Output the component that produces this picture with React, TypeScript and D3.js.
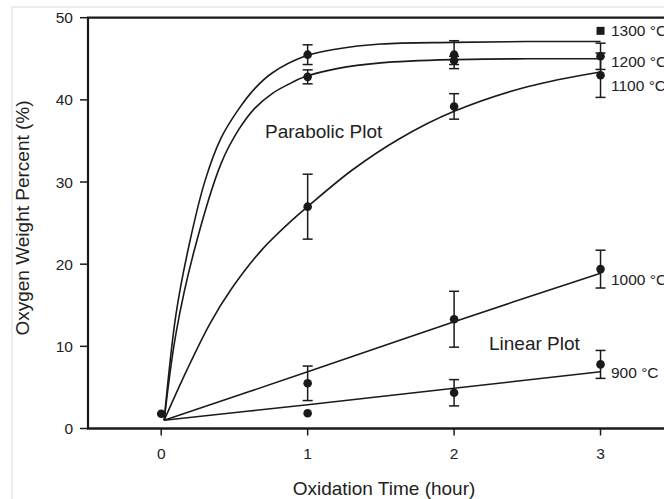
import React from "react";
import * as d3 from "d3";

// ---- data ----
const xTicks = [0, 1, 2, 3];
const yTicks = [0, 10, 20, 30, 40, 50];
const pointTimes = [1, 2, 3];

const startPoint = { t: 0, v: 1.8 };

const series900 = [1.85, 4.35, 7.8];
const err900 = [0, 1.6, 1.7];
const series1000 = [5.5, 13.3, 19.4];
const err1000 = [2.1, 3.4, 2.3];
const series1100 = [27.0, 39.2, 43.0];
const err1100 = [3.95, 1.55, 2.7];
const series1200 = [42.8, 44.8, 45.3];
const err1200 = [0.85, 0.5, 1.6];
const series1300 = [45.5, 45.5, 48.4];
const err1300 = [1.2, 1.7, 0];

// fitted curves
const fit1300T = [0.02, 0.1, 0.19, 0.3, 0.41, 0.53, 0.64, 0.76, 0.98, 1.2, 1.5, 2, 2.5, 3];
const fit1300V = [1.0, 13.8, 22.3, 30.2, 35.4, 38.9, 41.4, 43.3, 45.3, 46.2, 46.8, 47.0, 47.1, 47.1];
const fit1200T = [0.02, 0.1, 0.22, 0.41, 0.53, 0.64, 0.76, 0.87, 0.98, 1.2, 1.5, 2, 2.5, 3];
const fit1200V = [1.0, 11.5, 21.3, 32.3, 36.4, 39.0, 40.8, 41.9, 42.8, 43.8, 44.5, 44.9, 45.0, 45.0];
const fit1100T = [0.02, 0.175, 0.334, 0.48, 0.69, 0.915, 1.0, 1.3, 1.63, 2, 2.5, 3];
const fit1100V = [1.0, 7.1, 12.8, 17.0, 21.8, 25.7, 27.0, 31.4, 35.3, 38.6, 41.6, 43.4];
const fit1000T = [0.02, 1, 2, 3];
const fit1000V = [1.0, 6.9, 13.0, 18.9];
const fit900T = [0.02, 1, 2, 3];
const fit900V = [1.0, 2.9, 4.9, 6.9];

const seriesLabels = ["1300 °C", "1200 °C", "1100 °C", "1000 °C", "900 °C"];
const labelValues = [48.4, 44.7, 41.8, 18.2, 6.8];

const xTitle = "Oxidation Time (hour)";
const yTitle = "Oxygen Weight Percent (%)";

export default function App() {
  const W = 664, H = 499;
  const x = d3.scaleLinear().domain([-0.5, 3.5]).range([88, 673.75]);
  const y = d3.scaleLinear().domain([0, 50]).range([428.5, 17.7]);
  const font = "'Liberation Sans', Arial, sans-serif";
  const ink = "#1a1a1a";

  const line = d3
    .line<[number, number]>()
    .x((d) => x(d[0]))
    .y((d) => y(d[1]))
    .curve(d3.curveCatmullRom.alpha(0.5));

  const fits = [
    [fit1300T, fit1300V],
    [fit1200T, fit1200V],
    [fit1100T, fit1100V],
    [fit1000T, fit1000V],
    [fit900T, fit900V],
  ];

  const pointSets = [
    { v: series900, e: err900, square: false },
    { v: series1000, e: err1000, square: false },
    { v: series1100, e: err1100, square: false },
    { v: series1200, e: err1200, square: false },
    { v: series1300, e: err1300, square: true },
  ];

  return (
    <div style={{ position: "fixed", left: 0, top: 0 }}>
      <svg width={W} height={H} style={{ display: "block", background: "#fff" }}>
        {/* outer faint frame */}
        <rect x={12} y={7} width={W} height={H} fill="none" stroke="#dcdcdc" strokeWidth={1} />

        {/* curves */}
        {fits.map(([ts, vs], i) => (
          <path
            key={"f" + i}
            d={line(ts.map((t, j) => [t, vs[j]] as [number, number])) || ""}
            fill="none"
            stroke={ink}
            strokeWidth={1.6}
          />
        ))}

        {/* error bars and markers */}
        {pointSets.map((s, si) =>
          s.v.map((v, j) => {
            const t = pointTimes[j];
            const cx = x(t);
            const e = s.e[j];
            const isSq = s.square && j === 2;
            return (
              <g key={`p${si}-${j}`}>
                {e > 0 && (
                  <g stroke={ink} strokeWidth={1.5}>
                    <line x1={cx} x2={cx} y1={y(v + e)} y2={y(v - e)} />
                    <line x1={cx - 5} x2={cx + 5} y1={y(v + e)} y2={y(v + e)} />
                    <line x1={cx - 5} x2={cx + 5} y1={y(v - e)} y2={y(v - e)} />
                  </g>
                )}
                {isSq ? (
                  <rect x={cx - 4} y={y(v) - 4} width={8} height={8} fill={ink} />
                ) : (
                  <circle cx={cx} cy={y(v)} r={4.3} fill={ink} />
                )}
              </g>
            );
          })
        )}
        <circle cx={x(startPoint.t)} cy={y(startPoint.v)} r={4.3} fill={ink} />

        {/* axes */}
        <g stroke={ink}>
          <line x1={88} x2={88} y1={y(50)} y2={y(0)} strokeWidth={2.2} />
          <line x1={87} x2={W} y1={y(0)} y2={y(0)} strokeWidth={2.6} />
          <line x1={87} x2={W} y1={y(50)} y2={y(50)} strokeWidth={2.2} />
          {yTicks.map((t) => (
            <line key={"yt" + t} x1={80} x2={88} y1={y(t)} y2={y(t)} strokeWidth={1.5} />
          ))}
          {xTicks.map((t) => (
            <line key={"xt" + t} x1={x(t)} x2={x(t)} y1={y(0)} y2={y(0) + 7} strokeWidth={1.5} />
          ))}
        </g>

        <g fontFamily={font} fill="#222" fontSize={15.5}>
          {yTicks.map((t) => (
            <text key={"yl" + t} x={73} y={y(t)} dy="0.36em" textAnchor="end">
              {t}
            </text>
          ))}
          {xTicks.map((t) => (
            <text key={"xl" + t} x={x(t)} y={458.5} textAnchor="middle">
              {t}
            </text>
          ))}
          {seriesLabels.map((lab, i) => (
            <text key={"sl" + i} x={611} y={y(labelValues[i])} dy="0.36em">
              {lab}
            </text>
          ))}
        </g>

        <g fontFamily={font} fill="#222" fontSize={19}>
          <text x={265} y={130.7} dy="0.36em">Parabolic Plot</text>
          <text x={489} y={342.7} dy="0.36em">Linear Plot</text>
          <text x={384} y={495} textAnchor="middle">{xTitle}</text>
          <text transform={`translate(29, 218) rotate(-90)`} textAnchor="middle">
            {yTitle}
          </text>
        </g>
      </svg>
    </div>
  );
}
